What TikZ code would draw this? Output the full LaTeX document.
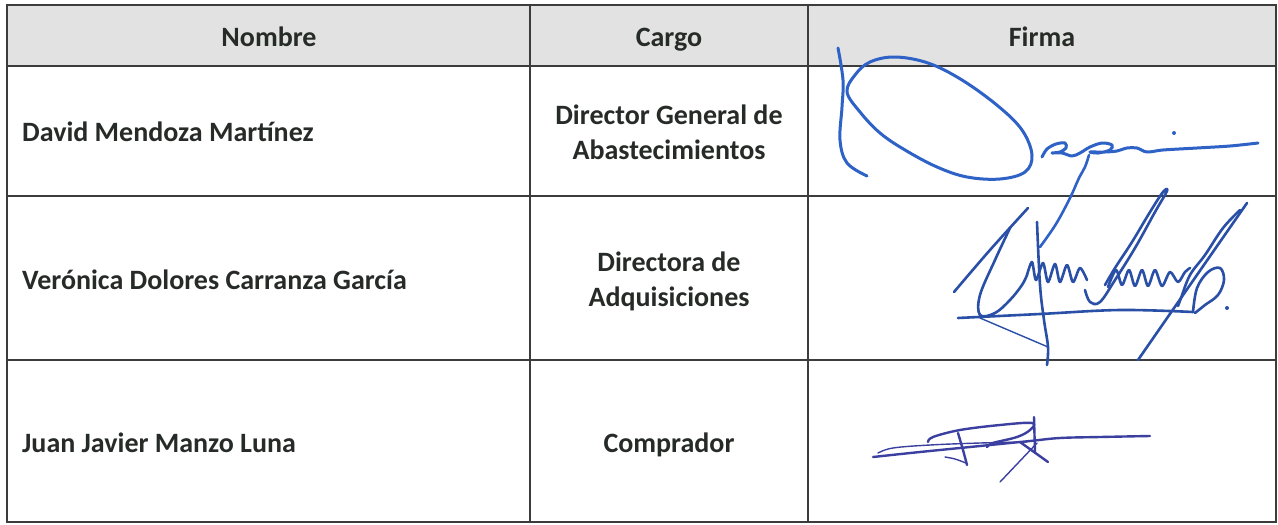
\documentclass[tikz,border=0pt]{standalone}
\usepackage{fontspec}
\setmainfont{Carlito}
\definecolor{txt}{HTML}{262B28}
\definecolor{rule}{HTML}{3C3C3C}
\definecolor{head}{HTML}{E2E2E2}
\definecolor{inkA}{HTML}{2E62C6}
\definecolor{inkB}{HTML}{2A4FA6}
\definecolor{inkC}{HTML}{3B3FA0}
\begin{document}
\begin{tikzpicture}[x=1pt,y=-1pt,
  cell/.style={font=\fontsize{28}{35}\selectfont\bfseries, text=txt, inner sep=0pt, align=center, anchor=base},
  namecell/.style={cell, anchor=base west, align=left},
  grid/.style={draw=rule, line width=1.1pt},
  sigA/.style={inkA, line width=3pt, line cap=round, line join=round},
  sigB/.style={inkB, line width=2.6pt, line cap=round, line join=round},
  sigC/.style={inkC, line width=2.4pt, line cap=round, line join=round},
  thin/.style={line width=1.4pt}]
\useasboundingbox (0,0) rectangle (1278,525);
\fill[white] (0,0) rectangle (1278,525);
\fill[head] (7,5) rectangle (1276,66);
% grid
\draw[grid] (7,5) rectangle (1276,522);
\draw[grid] (7,66) -- (1276,66);
\draw[grid] (7,196) -- (1276,196);
\draw[grid] (7,360) -- (1276,360);
\draw[grid] (530,5) -- (530,522);
\draw[grid] (808,5) -- (808,522);
% header
\node[cell] (hNombre) at (269,46) {Nombre};
\node[cell] (hCargo) at (669,46) {Cargo};
\node[cell] (hFirma) at (1042,46) {Firma};
% rows (multi-line cells are anchored at the baseline of their last line)
\node[namecell] (n1) at (22,141) {David Mendoza Martínez};
\node[cell] (c1) at (669,159) {Director General de\\Abastecimientos};
\node[namecell] (n2) at (22,289) {Verónica Dolores Carranza García};
\node[cell] (c2) at (669,306) {Directora de\\Adquisiciones};
\node[namecell] (n3) at (22,452) {Juan Javier Manzo Luna};
\node[cell] (c3) at (669,452) {Comprador};
% signature 1
\draw[sigA] plot[smooth, tension=0.6] coordinates {(838,48) (843,80) (842,107) (840,140) (847,163) (867,176)};
\draw[sigA] plot[smooth cycle, tension=0.6] coordinates {(847,92) (860,112) (880,133) (905,150) (937,167) (967,177) (1000,179) (1025,172) (1032,155) (1022,130) (998,106) (962,80) (928,63) (895,57) (870,62) (855,75)};
\draw[sigA] plot[smooth, tension=0.55] coordinates {(1042,157) (1047,149) (1056,144) (1065,143) (1066,148) (1060,152) (1052,153) (1062,153) (1072,156) (1080,153) (1090,147) (1102,143) (1112,145) (1110,150) (1098,153) (1090,152) (1105,152) (1117,151) (1127,148) (1137,148) (1147,152) (1163,150) (1197,148) (1230,146) (1258,143)};
\draw[sigA, line width=2.6pt] plot[smooth, tension=0.6] coordinates {(1089,155) (1085,167) (1079,178) (1070,198) (1056,224) (1040,247)};
\fill[inkA] (1174,133) circle (2pt);
% signature 2
\draw[sigB] plot[smooth, tension=0.6] coordinates {(1028,208) (990,250) (954,292)};
\draw[sigB] plot[smooth, tension=0.6] coordinates {(1010,228) (995,260) (980,295) (980,315) (995,313) (1010,300) (1022,285) (1027,275)};
\draw[sigB] plot[smooth, tension=0.5] coordinates {(1027,275) (1032,262) (1036,280) (1043,263) (1048,282) (1055,264) (1060,282) (1067,265) (1073,282) (1080,268) (1087,280)};
\draw[sigB] plot[smooth, tension=0.6] coordinates {(1037,222) (1040,285) (1044,320) (1048,347) (1047,365)};
\draw[sigB] plot[smooth, tension=0.6] coordinates {(958,318) (1040,314) (1120,310) (1193,312)};
\draw[sigB, thin] (980,318) -- (1048,347);
\draw[sigB] plot[smooth, tension=0.6] coordinates {(1085,290) (1090,302) (1100,302) (1115,280) (1135,248) (1155,212) (1167,191) (1163,192) (1150,212) (1132,242) (1115,268) (1105,285)};
\draw[sigB] plot[smooth, tension=0.5] coordinates {(1108,287) (1116,270) (1122,285) (1129,270) (1135,286) (1142,270) (1148,286) (1155,270) (1162,286) (1170,272) (1178,282) (1185,272) (1190,268)};
\draw[sigB] plot[smooth, tension=0.6] coordinates {(1247,203) (1190,285) (1138,360)};
\draw[sigB] plot[smooth, tension=0.6] coordinates {(1240,210) (1223,228) (1205,255) (1190,275) (1181,298) (1178,306)};
\draw[sigB] plot[smooth, tension=0.6] coordinates {(1193,312) (1197,288) (1208,272) (1220,268) (1224,280) (1218,295) (1205,305) (1195,313)};
\fill[inkB] (1227,308) circle (2pt);
% signature 3
\draw[sigC] plot[smooth, tension=0.6] coordinates {(873,457) (920,452) (980,446) (1030,441) (1060,438) (1100,437) (1150,436)};
\draw[sigC, thin] plot[smooth, tension=0.6] coordinates {(878,453) (893,448) (930,445) (980,443) (1027,442)};
\draw[sigC] plot[smooth, tension=0.6] coordinates {(928,442) (933,437) (960,430) (1000,425) (1032,423) (1030,430) (1017,437) (993,443) (987,447)};
\draw[sigC] plot[smooth, tension=0.6] coordinates {(958,433) (963,450) (967,465)};
\draw[sigC, thin] plot[smooth, tension=0.6] coordinates {(966,463) (955,459) (945,457)};
\draw[sigC] (1034,417) -- (1035,453);
\draw[sigC] (1048,462) -- (1020,442);
\draw[sigC, thin] (1000,482) -- (1037,443);
\end{tikzpicture}
\end{document}
